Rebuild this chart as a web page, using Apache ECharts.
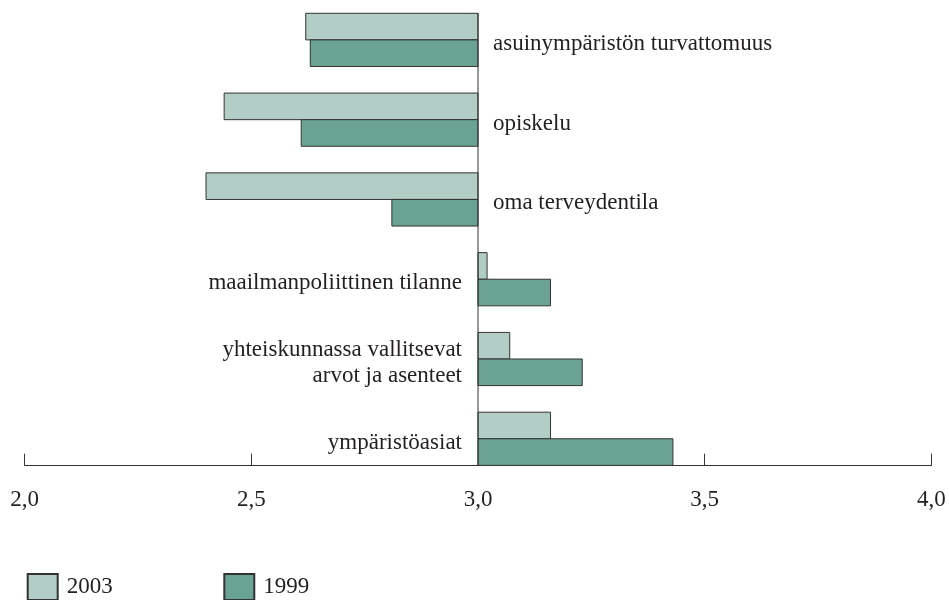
<!DOCTYPE html>
<html>
<head>
<meta charset="utf-8">
<script src="https://cdn.jsdelivr.net/npm/echarts@6/dist/echarts.min.js"></script>
<style>
  html, body { margin: 0; padding: 0; background: #ffffff; }
  #chart { width: 949px; height: 600px; }
</style>
</head>
<body>
<div id="chart"></div>
<script>
// Topics (top to bottom) and mean ratings for each survey year
const categories = [
  'asuinympäristön turvattomuus',
  'opiskelu',
  'oma terveydentila',
  'maailmanpoliittinen tilanne',
  'yhteiskunnassa vallitsevat\narvot ja asenteet',
  'ympäristöasiat'
];
const values2003 = [2.62, 2.44, 2.40, 3.02, 3.07, 3.16];
const values1999 = [2.63, 2.61, 2.81, 3.16, 3.23, 3.43];
const baseline = 3.0;
const tickValues = [2.0, 2.5, 3.0, 3.5, 4.0];

const FONT = '"Liberation Serif", "Times New Roman", serif';
const TEXT = '#231f20';
const EDGE = '#333333';
const COLOR_2003 = '#b2cdc5';
const COLOR_1999 = '#6aa393';

// Bars grow from the baseline value, two per category (slot 0 on top)
function barRenderer(slot) {
  return function (params, api) {
    const cat = api.value(0);
    const val = api.value(1);
    const start = api.coord([baseline, cat]);
    const end = api.coord([val, cat]);
    const band = api.size([0, 1])[1];
    const h = band / 3;
    const y = start[1] - h + slot * h;
    const x = Math.min(start[0], end[0]);
    const w = Math.abs(end[0] - start[0]);
    return {
      type: 'rect',
      shape: { x: x, y: y, width: w, height: h },
      style: api.style({ stroke: EDGE, lineWidth: 1 })
    };
  };
}

// Category names sit next to the baseline, on the side away from the bars
function labelRenderer(params, api) {
  const i = api.value(0);
  const p = api.coord([baseline, i]);
  const left = values1999[i] < baseline;
  return {
    type: 'text',
    style: {
      x: left ? p[0] + 15 : p[0] - 16,
      y: p[1] + 4,
      text: categories[i],
      fill: TEXT,
      font: '23px ' + FONT,
      align: left ? 'left' : 'right',
      verticalAlign: 'middle',
      lineHeight: 26
    }
  };
}

// Vertical baseline from the top bar down to the value axis
function baselineRenderer(params, api) {
  const band = api.size([0, 1])[1];
  const top = api.coord([baseline, 0]);
  const bottom = api.coord([baseline, categories.length - 1]);
  return {
    type: 'line',
    shape: { x1: top[0], y1: top[1] - band / 3, x2: bottom[0], y2: bottom[1] + band / 3 },
    style: { stroke: EDGE, lineWidth: 1 }
  };
}

const chart = echarts.init(document.getElementById('chart'), null, { renderer: 'canvas' });

chart.setOption({
  animation: false,
  backgroundColor: '#ffffff',
  grid: { left: 24.7, right: 17.7, top: -1.33, height: 480, containLabel: false },
  xAxis: {
    type: 'value',
    min: tickValues[0],
    max: tickValues[tickValues.length - 1],
    interval: tickValues[1] - tickValues[0],
    offset: -13,
    axisLine: { show: true, lineStyle: { color: EDGE, width: 1 } },
    axisTick: { show: true, inside: true, length: 12, lineStyle: { color: EDGE, width: 1 } },
    splitLine: { show: false },
    axisLabel: {
      margin: 23,
      color: TEXT,
      fontFamily: FONT,
      fontSize: 23,
      formatter: function (v) { return v.toFixed(1).replace('.', ','); }
    }
  },
  yAxis: {
    type: 'category',
    data: categories,
    inverse: true,
    show: false
  },
  legend: [
    {
      left: 26.7, top: 573, padding: 0,
      itemWidth: 30, itemHeight: 26,
      icon: 'rect',
      data: ['2003'],
      textStyle: { color: TEXT, fontFamily: FONT, fontSize: 23, padding: [0, 0, 0, 4] }
    },
    {
      left: 223.3, top: 573, padding: 0,
      itemWidth: 30, itemHeight: 26,
      icon: 'rect',
      data: ['1999'],
      textStyle: { color: TEXT, fontFamily: FONT, fontSize: 23, padding: [0, 0, 0, 4] }
    }
  ],
  series: [
    {
      name: '2003',
      type: 'custom',
      renderItem: barRenderer(0),
      itemStyle: { color: COLOR_2003, borderColor: EDGE, borderWidth: 1 },
      encode: { x: 1, y: 0 },
      data: values2003.map(function (v, i) { return [i, v]; })
    },
    {
      name: '1999',
      type: 'custom',
      renderItem: barRenderer(1),
      itemStyle: { color: COLOR_1999, borderColor: EDGE, borderWidth: 1 },
      encode: { x: 1, y: 0 },
      data: values1999.map(function (v, i) { return [i, v]; })
    },
    {
      name: 'baseline',
      type: 'custom',
      renderItem: baselineRenderer,
      encode: { x: 1, y: 0 },
      data: [[0, baseline]],
      silent: true
    },
    {
      name: 'labels',
      type: 'custom',
      renderItem: labelRenderer,
      encode: { y: 0 },
      data: categories.map(function (c, i) { return [i]; }),
      silent: true
    }
  ]
});
</script>
</body>
</html>
